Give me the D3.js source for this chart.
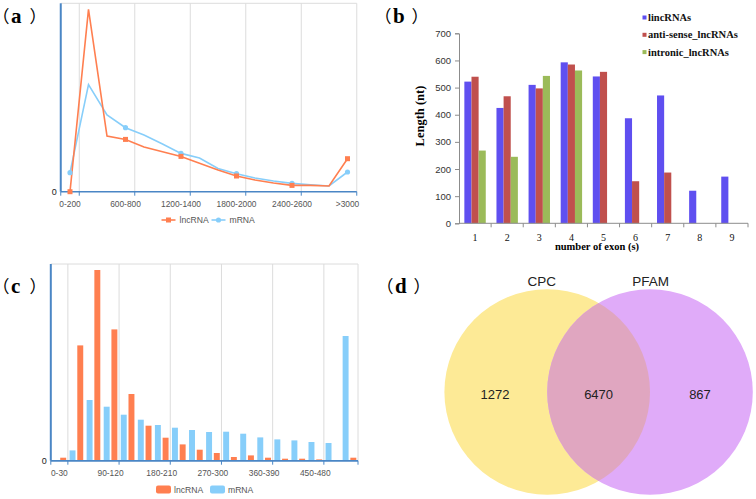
<!DOCTYPE html>
<html><head><meta charset="utf-8">
<script src="https://cdn.jsdelivr.net/npm/d3@7/dist/d3.min.js"></script>
<style>body{margin:0;background:#fff}svg{display:block}.pal{font-feature-settings:"palt" 1}</style>
</head><body>
<svg id="fig" width="756" height="499"></svg>
<script>
// ---------- DATA ----------
// (a) length distribution (relative frequency, arbitrary units)
const catsA = ['0-200','200-400','400-600','600-800','800-1000','1000-1200','1200-1400','1400-1600',
  '1600-1800','1800-2000','2000-2200','2200-2400','2400-2600','2600-2800','2800-3000','>3000'];
const lncA  = [0,182.3,55.7,52.3,44.7,40,35.3,28.5,21.7,15.7,11.7,8.7,6.3,6.3,5.7,33];
const mrnaA = [19,107,76.7,64,56.7,47.7,38.3,33.7,23.3,18,13.7,10.7,8.3,7,5.7,19.7];
const seriesA = ['lncRNA','mRNA'];

// (b) length by number of exons
const exonCats = ['1','2','3','4','5','6','7','8','9'];
const seriesB = ['lincRNAs','anti-sense_lncRNAs','intronic_lncRNAs'];
const lincB = [522,425,510,593,541,387,471,120,172];
const antiB = [540,468,497,585,558,155,187,null,null];
const intrB = [268,245,543,563,null,null,null,null,null];
const ticksB = [0,100,200,300,400,500,600,700];

// (c) ORF length distribution (relative frequency, arbitrary units)
const catsC = ['0-30','30-60','60-90','90-120','120-150','150-180','180-210','210-240','240-270',
  '270-300','300-330','330-360','360-390','390-420','420-450','450-480','480-510','>510'];
const lncC  = [3,115.3,190.7,131.3,66.7,35,23,16.3,11,7.7,3.7,5.3,3,2,2,1.3,0.7,3];
const mrnaC = [0,10.3,60.7,54,46,41,35.7,33,30.7,28.7,29,27,23.3,21.3,20.3,18.7,17.7,124.7];
const seriesC = ['lncRNA','mRNA'];

// (d) Venn
const vennNames = ['CPC','PFAM'];
const vennOnly = [1272,867];
const vennBoth = 6470;

const panelLabels = ['a','b','c','d'];

// ---------- STYLE ----------
const SANS = 'Arial, "Liberation Sans", sans-serif';
const SERIF = '"Times New Roman", "Liberation Serif", serif';
const CJK = '"Noto Sans CJK SC", sans-serif';
const ORANGE = '#ff7f50', SKY = '#87cefa', AXIS = '#4a86c5', GRID = '#dcdcdc';

const svg = d3.select('#fig');

// panel labels
const labPos = [[0,0],[382,0],[0,270],[384,270]];
panelLabels.forEach((l,i)=>{
  const [ox,oy] = labPos[i];
  const t = svg.append('text').attr('y',oy+23).attr('fill','#000');
  t.append('tspan').attr('class','pal').attr('x',ox+0.5).attr('font-family',CJK).attr('font-size',17).text('（');
  t.append('tspan').attr('x',ox+11).attr('font-family',SERIF).attr('font-weight','bold').attr('font-size',21).text(l);
  t.append('tspan').attr('class','pal').attr('x',ox+30).attr('font-family',CJK).attr('font-size',17).text('）');
});

// ---------- helper for ECharts-like category frame ----------
function frame(g, x, y, cats, gridIdx, labelIdx, yTop, yBase){
  const x0 = x.range()[0], x1 = x.range()[1];
  g.append('line').attr('x1',x0).attr('x2',x1).attr('y1',yTop).attr('y2',yTop).attr('stroke',GRID);
  gridIdx.forEach(i=>{
    const gx = i < cats.length ? x(cats[i]) : x1;
    g.append('line').attr('x1',gx).attr('x2',gx).attr('y1',yTop).attr('y2',yBase).attr('stroke',GRID);
  });
  g.append('line').attr('x1',x0).attr('x2',x1).attr('y1',yBase).attr('y2',yBase).attr('stroke',AXIS).attr('stroke-width',1.5);
  [0].concat(gridIdx).forEach(i=>{
    const gx = i < cats.length ? x(cats[i]) : x1;
    g.append('line').attr('x1',gx).attr('x2',gx).attr('y1',yBase).attr('y2',yBase+4).attr('stroke',AXIS);
  });
  g.append('line').attr('x1',x0).attr('x2',x0).attr('y1',yTop).attr('y2',yBase).attr('stroke',AXIS).attr('stroke-width',2);
  g.append('text').attr('x',x0-4).attr('y',yBase+3).attr('text-anchor','end')
    .attr('font-family',SANS).attr('font-size',9).attr('fill','#222').text('0');
  labelIdx.forEach(i=>{
    g.append('text').attr('x',x(cats[i])+x.bandwidth()/2).attr('y',yBase+15).attr('text-anchor','middle')
      .attr('font-family',SANS).attr('font-size',8.4).attr('fill','#555').text(cats[i]);
  });
}

// ---------- (a) ----------
{
  const g = svg.append('g');
  const x = d3.scaleBand().domain(catsA).range([60.75,356.75]);
  const y = d3.scaleLinear().domain([0,188.4]).range([191.7,3.3]);
  frame(g,x,y,catsA,[1,4,7,10,13,16],[0,3,6,9,12,15],3.3,191.7);
  const cx = (d,i)=>x(catsA[i])+x.bandwidth()/2;
  const line = d3.line().x(cx).y(d=>y(d));
  const mk = [0,3,6,9,12,15];
  g.append('path').datum(mrnaA).attr('d',line).attr('fill','none').attr('stroke',SKY).attr('stroke-width',1.6);
  g.append('path').datum(lncA).attr('d',line).attr('fill','none').attr('stroke',ORANGE).attr('stroke-width',1.6);
  g.selectAll('circle.m').data(mk).join('circle').attr('cx',i=>cx(null,i)).attr('cy',i=>y(mrnaA[i])).attr('r',2.6).attr('fill',SKY);
  g.selectAll('rect.l').data(mk).join('rect').attr('x',i=>cx(null,i)-2.5).attr('y',i=>y(lncA[i])-2.5).attr('width',5).attr('height',5).attr('fill',ORANGE);
  const lg = [[161.5,ORANGE,'rect'],[211.5,SKY,'circle']];
  seriesA.forEach((s,k)=>{
    const [lx,col,shape] = lg[k];
    g.append('line').attr('x1',lx).attr('x2',lx+14).attr('y1',220).attr('y2',220).attr('stroke',col).attr('stroke-width',1.6);
    if(shape==='rect') g.append('rect').attr('x',lx+4.5).attr('y',217.5).attr('width',5).attr('height',5).attr('fill',col);
    else g.append('circle').attr('cx',lx+7).attr('cy',220).attr('r',2.6).attr('fill',col);
    g.append('text').attr('x',lx+18).attr('y',223).attr('font-family',SANS).attr('font-size',8.6).attr('fill','#555').text(s);
  });
}

// ---------- (b) ----------
{
  const g = svg.append('g');
  const x = d3.scaleBand().domain(exonCats).range([459,748]);
  const sub = d3.scaleBand().domain(seriesB).range([0,x.bandwidth()]).paddingInner(0).paddingOuter(0.75);
  const y = d3.scaleLinear().domain([0,700]).range([223.3,33.3]);
  const colB = ['#5f4ff0','#c0504d','#9bbb59'];
  const dataB = [lincB,antiB,intrB];
  const ya = g.append('g').attr('transform','translate(459,0)')
    .call(d3.axisLeft(y).tickValues(ticksB).tickSize(4).tickPadding(4));
  ya.select('.domain').attr('stroke','#8c8c8c');
  ya.selectAll('.tick line').attr('stroke','#8c8c8c');
  ya.selectAll('.tick text').attr('font-family',SANS).attr('font-size',9.5).attr('fill','#333');
  dataB.forEach((arr,k)=>{
    g.selectAll('rect.s'+k).data(arr.map((v,i)=>({v,i})).filter(d=>d.v!=null)).join('rect')
      .attr('x',d=>x(exonCats[d.i])+sub(seriesB[k])).attr('width',sub.bandwidth())
      .attr('y',d=>y(d.v)).attr('height',d=>y(0)-y(d.v)).attr('fill',colB[k]);
  });
  g.append('line').attr('x1',459).attr('x2',748).attr('y1',y(0)).attr('y2',y(0)).attr('stroke','#8c8c8c');
  exonCats.forEach((c,i)=>{
    g.append('line').attr('x1',x(c)+x.bandwidth()).attr('x2',x(c)+x.bandwidth()).attr('y1',y(0)).attr('y2',y(0)+4).attr('stroke','#8c8c8c');
    g.append('text').attr('x',x(c)+x.bandwidth()/2).attr('y',240.5).attr('text-anchor','middle')
      .attr('font-family',SERIF).attr('font-size',10).attr('fill','#111').text(c);
  });
  g.append('text').attr('x',597).attr('y',250).attr('text-anchor','middle').attr('font-family',SERIF)
    .attr('font-weight','bold').attr('font-size',10.5).text('number of exon (s)');
  g.append('text').attr('transform','translate(424,116) rotate(-90)').attr('text-anchor','middle')
    .attr('font-family',SERIF).attr('font-weight','bold').attr('font-size',12.5).text('Length (nt)');
  seriesB.forEach((s,k)=>{
    const ly = 17.5 + k*17.3;
    g.append('rect').attr('x',642.5).attr('y',ly-2).attr('width',4).attr('height',4).attr('fill',colB[k]);
    g.append('text').attr('x',648).attr('y',ly+3.5).attr('font-family',SERIF).attr('font-weight','bold')
      .attr('font-size',10.5).attr('fill','#111').text(s);
  });
}

// ---------- (c) ----------
{
  const g = svg.append('g');
  const x = d3.scaleBand().domain(catsC).range([50.8,358]);
  const sub = d3.scaleBand().domain(['mRNA','lncRNA']).range([0,x.bandwidth()]).paddingInner(0.23).paddingOuter(0.22);
  const y = d3.scaleLinear().domain([0,196.7]).range([460.7,264]);
  frame(g,x,y,catsC,[1,4,7,10,13,16,18],[0,3,6,9,12,15],264,460.7);
  const dat = {lncRNA:lncC, mRNA:mrnaC};
  const col = {lncRNA:ORANGE, mRNA:SKY};
  seriesC.forEach(s=>{
    g.selectAll('rect.'+s).data(dat[s].map((v,i)=>({v,i}))).join('rect')
      .attr('x',d=>x(catsC[d.i])+sub(s)).attr('width',sub.bandwidth())
      .attr('y',d=>y(d.v)).attr('height',d=>y(0)-y(d.v)).attr('fill',col[s]);
  });
  g.append('line').attr('x1',50.8).attr('x2',358).attr('y1',460.7).attr('y2',460.7).attr('stroke',AXIS).attr('stroke-width',1.5);
  const lx = [156,210];
  seriesC.forEach((s,k)=>{
    g.append('rect').attr('x',lx[k]).attr('y',485.5).attr('width',15).attr('height',8).attr('rx',2).attr('fill',col[s]);
    g.append('text').attr('x',lx[k]+18).attr('y',492.5).attr('font-family',SANS).attr('font-size',8.6).attr('fill','#555').text(s);
  });
}

// ---------- (d) Venn ----------
{
  const g = svg.append('g');
  const r = 102.8;
  const x = d3.scalePoint().domain(vennNames).range([547.2,650]);
  const cy = 392;
  const fills = ['#fdea96','#e0abf9'];
  vennNames.forEach((n,i)=>{
    g.append('circle').attr('cx',x(n)).attr('cy',cy).attr('r',r).attr('fill',fills[i]);
  });
  svg.append('clipPath').attr('id','clipY').append('circle').attr('cx',x('CPC')).attr('cy',cy).attr('r',r);
  g.append('circle').attr('cx',x('PFAM')).attr('cy',cy).attr('r',r).attr('fill','#e0a6c0').attr('clip-path','url(#clipY)');
  vennNames.forEach((n,i)=>{
    g.append('text').attr('x',x(n)+(i?0.7:-5.5)).attr('y',285.5).attr('text-anchor','middle')
      .attr('font-family',SANS).attr('font-size',13.5).attr('fill','#222').text(n);
  });
  const numX = [495,700];
  vennOnly.forEach((v,i)=>{
    g.append('text').attr('x',numX[i]).attr('y',398.5).attr('text-anchor','middle')
      .attr('font-family',SANS).attr('font-size',13).attr('fill','#222').text(v);
  });
  g.append('text').attr('x',(x('CPC')+x('PFAM'))/2).attr('y',398.5).attr('text-anchor','middle')
    .attr('font-family',SANS).attr('font-size',13).attr('fill','#222').text(vennBoth);
}
</script>
</body></html>
